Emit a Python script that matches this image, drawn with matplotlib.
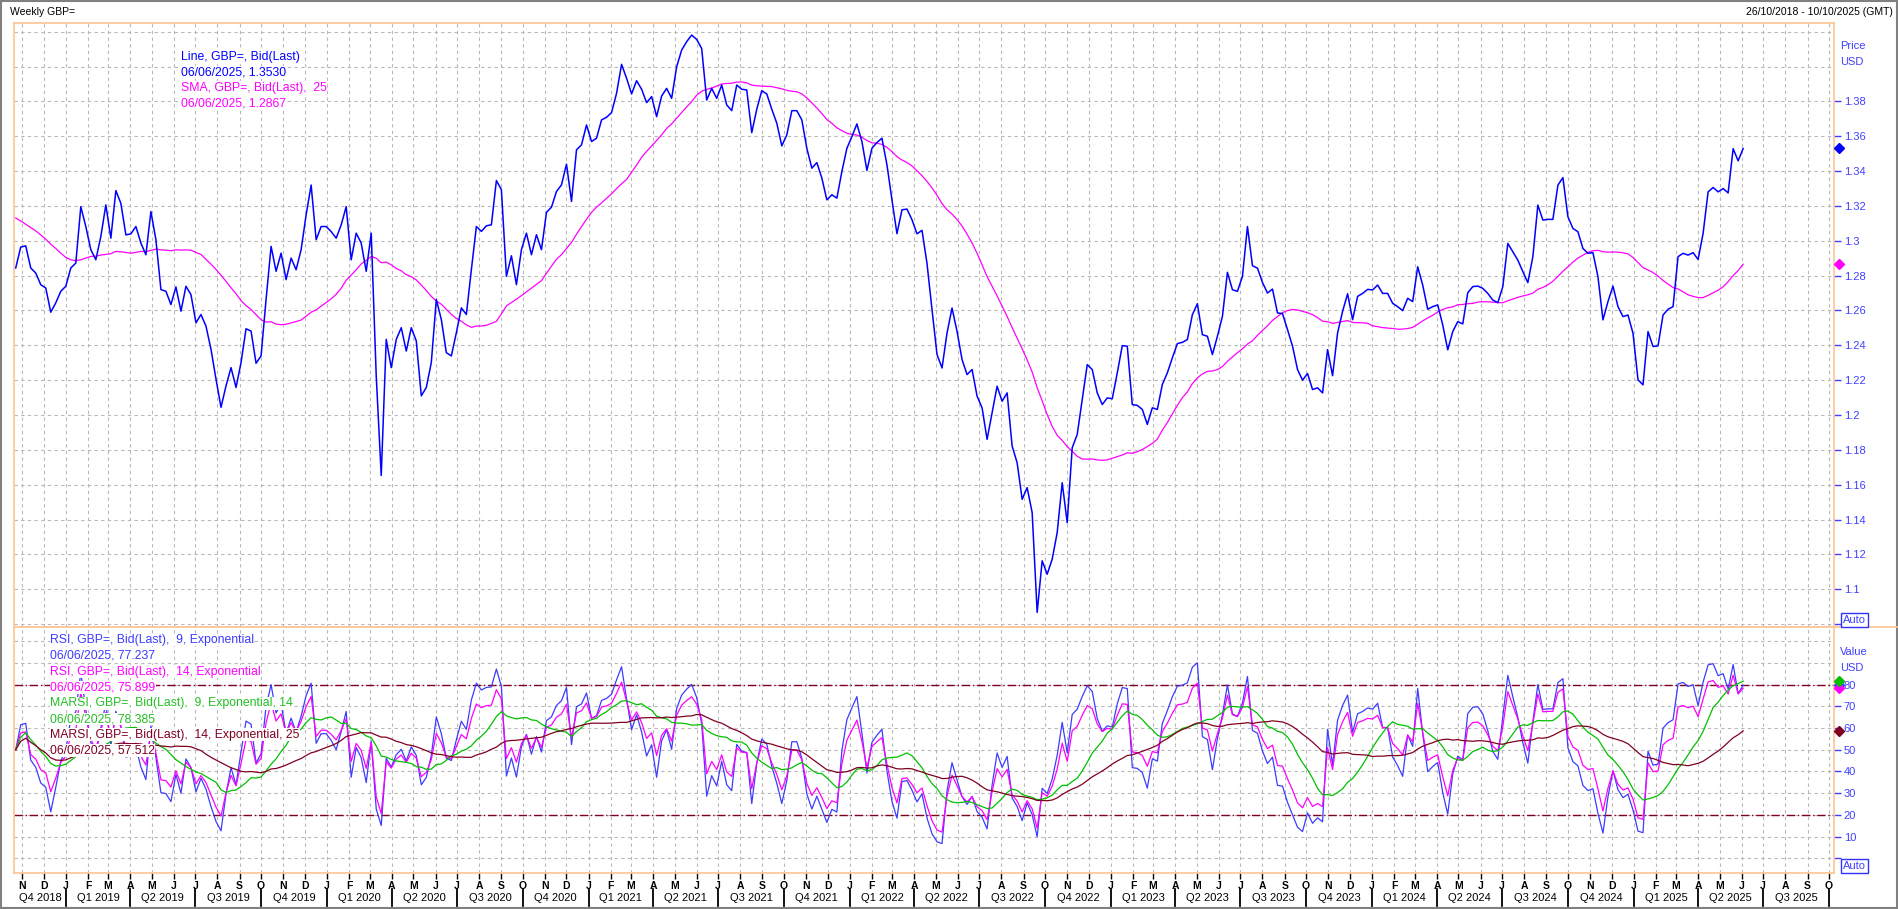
import numpy as np
import pandas as pd
import matplotlib
matplotlib.use('Agg')
import matplotlib.pyplot as plt
from matplotlib.transforms import blended_transform_factory
from matplotlib.patches import Rectangle
from matplotlib.lines import Line2D

plt.rcParams['font.family'] = ['Liberation Sans', 'DejaVu Sans']

######################### Data ############################
first_week = '2018-10-26'

# weekly GBP= bid (last), 26/10/2018 .. 06/06/2025
price = [
    1.2844, 1.2964, 1.2971, 1.2844, 1.2815, 1.2748, 1.2729, 1.2590, 1.2644, 1.2710,
    1.2739, 1.2844, 1.2872, 1.3196, 1.3082, 1.2949, 1.2891, 1.3025, 1.3206, 1.3015,
    1.3288, 1.3215, 1.3034, 1.3040, 1.3082, 1.2987, 1.2920, 1.3168, 1.3006, 1.2720,
    1.2710, 1.2634, 1.2735, 1.2596, 1.2739, 1.2691, 1.2529, 1.2577, 1.2510, 1.2377,
    1.2206, 1.2044, 1.2167, 1.2272, 1.2158, 1.2301, 1.2495, 1.2482, 1.2297, 1.2339,
    1.2663, 1.2968, 1.2825, 1.2929, 1.2777, 1.2901, 1.2834, 1.2949, 1.3149, 1.3320,
    1.3006, 1.3082, 1.3082, 1.3053, 1.3015, 1.3091, 1.3196, 1.2891, 1.3044, 1.2987,
    1.2825, 1.3044, 1.2225, 1.1653, 1.2434, 1.2272, 1.2434, 1.2501, 1.2367, 1.2501,
    1.2425, 1.2110, 1.2158, 1.2301, 1.2663, 1.2548, 1.2358, 1.2339, 1.2472, 1.2615,
    1.2577, 1.2834, 1.3082, 1.3054, 1.3086, 1.3092, 1.3346, 1.3293, 1.2796, 1.2914,
    1.2748, 1.2949, 1.3044, 1.2920, 1.3035, 1.2949, 1.3163, 1.3193, 1.3283, 1.3321,
    1.3440, 1.3226, 1.3522, 1.3551, 1.3665, 1.3570, 1.3589, 1.3694, 1.3709, 1.3736,
    1.3847, 1.4013, 1.3933, 1.3843, 1.3919, 1.3870, 1.3793, 1.3828, 1.3713, 1.3831,
    1.3875, 1.3818, 1.3999, 1.4095, 1.4143, 1.4181, 1.4156, 1.4104, 1.3808, 1.3875,
    1.3818, 1.3894, 1.3780, 1.3747, 1.3894, 1.3870, 1.3866, 1.3621, 1.3755, 1.3862,
    1.3843, 1.3755, 1.3675, 1.3545, 1.3608, 1.3747, 1.3747, 1.3694, 1.3531, 1.3417,
    1.3449, 1.3360, 1.3235, 1.3264, 1.3245, 1.3398, 1.3531, 1.3598, 1.3671, 1.3570,
    1.3404, 1.3531, 1.3564, 1.3589, 1.3436, 1.3235, 1.3041, 1.3178, 1.3182, 1.3121,
    1.3040, 1.3060, 1.2870, 1.2605, 1.2347, 1.2270, 1.2471, 1.2614, 1.2480, 1.2318,
    1.2232, 1.2261, 1.2108, 1.2041, 1.1860, 1.2013, 1.2165, 1.2079, 1.2127, 1.1822,
    1.1726, 1.1516, 1.1583, 1.1440, 1.0867, 1.1163, 1.1086, 1.1172, 1.1325, 1.1611,
    1.1382, 1.1812, 1.1888, 1.2089, 1.2289, 1.2261, 1.2127, 1.2060, 1.2098, 1.2093,
    1.2242, 1.2398, 1.2395, 1.2060, 1.2055, 1.2032, 1.1946, 1.2041, 1.2032, 1.2175,
    1.2242, 1.2328, 1.2410, 1.2417, 1.2433, 1.2576, 1.2639, 1.2461, 1.2452, 1.2347,
    1.2452, 1.2566, 1.2819, 1.2719, 1.2710, 1.2796, 1.3082, 1.2857, 1.2843, 1.2761,
    1.2700, 1.2723, 1.2586, 1.2582, 1.2490, 1.2395, 1.2261, 1.2200, 1.2238, 1.2146,
    1.2156, 1.2127, 1.2375, 1.2226, 1.2471, 1.2595, 1.2696, 1.2547, 1.2681, 1.2698,
    1.2721, 1.2718, 1.2746, 1.2698, 1.2698, 1.2641, 1.2622, 1.2599, 1.2670, 1.2651,
    1.2851, 1.2746, 1.2607, 1.2622, 1.2632, 1.2517, 1.2374, 1.2479, 1.2536, 1.2523,
    1.2702, 1.2737, 1.2740, 1.2727, 1.2698, 1.2660, 1.2645, 1.2737, 1.2985, 1.2937,
    1.2889, 1.2823, 1.2760, 1.2909, 1.3205, 1.3119, 1.3123, 1.3123, 1.3319, 1.3363,
    1.3138, 1.3071, 1.3052, 1.2956, 1.2928, 1.2932, 1.2794, 1.2546, 1.2651, 1.2740,
    1.2622, 1.2565, 1.2574, 1.2469, 1.2202, 1.2173, 1.2479, 1.2393, 1.2397, 1.2574,
    1.2607, 1.2622, 1.2909, 1.2928, 1.2918, 1.2932, 1.2893, 1.3042, 1.3281, 1.3306,
    1.3281, 1.3300, 1.3275, 1.3529, 1.3459, 1.3530,
]

# SMA(25) for the first 24 weeks (its history is before the window)
sma_head = [
    1.3131, 1.3114, 1.3095, 1.3076, 1.3057, 1.3034, 1.3009, 1.2981, 1.2956, 1.2929,
    1.2905, 1.2891, 1.2886, 1.2891, 1.2901, 1.2910, 1.2912, 1.2918, 1.2922, 1.2926,
    1.2939, 1.2937, 1.2933, 1.2929,
]

price_ticks = [1.08, 1.1, 1.12, 1.14, 1.16, 1.18, 1.2, 1.22, 1.24, 1.26, 1.28,
               1.3, 1.32, 1.34, 1.36, 1.38]
rsi_ticks = [0, 10, 20, 30, 40, 50, 60, 70, 80]
rsi_bands = [20, 80]

top_legend = [
    ("Line, GBP=, Bid(Last)", '#0000ff'),
    ("06/06/2025, 1.3530", '#0000ff'),
    ("SMA, GBP=, Bid(Last),  25", '#ff00ff'),
    ("06/06/2025, 1.2867", '#ff00ff'),
]
low_legend = [
    ("RSI, GBP=, Bid(Last),  9, Exponential", '#3c3cff'),
    ("06/06/2025, 77.237", '#3c3cff'),
    ("RSI, GBP=, Bid(Last),  14, Exponential", '#ff00ff'),
    ("06/06/2025, 75.899", '#ff00ff'),
    ("MARSI, GBP=, Bid(Last),  9, Exponential, 14", '#22c022'),
    ("06/06/2025, 78.385", '#22c022'),
    ("MARSI, GBP=, Bid(Last),  14, Exponential, 25", '#800020'),
    ("06/06/2025, 57.512", '#800020'),
]
month_letters = ['J', 'F', 'M', 'A', 'M', 'J', 'J', 'A', 'S', 'O', 'N', 'D']

######################### Indicators ############################
def rsi(s, n, seed=0.005):
    """exponential RSI, started from a neutral (50) state"""
    a = 2.0 / (n + 1)
    au, ad = seed, seed
    out = [50.0]
    for d in np.diff(s.values):
        au = (1 - a) * au + a * max(d, 0)
        ad = (1 - a) * ad + a * max(-d, 0)
        out.append(100 - 100 / (1 + au / ad))
    return pd.Series(out, index=s.index)

dates = pd.date_range(first_week, periods=len(price), freq='7D')
s = pd.Series(price, index=dates)
sma = s.rolling(25).mean()
sma.iloc[:len(sma_head)] = sma_head
rsi9 = rsi(s, 9)
rsi14 = rsi(s, 14)
marsi9 = rsi9.rolling(14, min_periods=1).mean()
marsi14 = rsi14.rolling(25, min_periods=1).mean()

######################### Figure ############################
W, H = 1898, 909
fig = plt.figure(figsize=(W / 100, H / 100), dpi=100)

def fx(x):
    return x / W

def fy(y):
    return 1 - y / H

L, R = 14, 1834
T1, B1, B2 = 22.7, 627, 873
ax1 = fig.add_axes([fx(L), fy(B1), fx(R - L), (B1 - T1) / H])
ax2 = fig.add_axes([fx(L), fy(B2), fx(R - L), (B2 - B1) / H], sharex=ax1)

orange = '#fdc590'
blue_txt = '#4040ff'
grid_c = '#b8b8b8'

x0 = dates[0] - pd.Timedelta(days=2.4)
x1 = dates[0] + pd.Timedelta(days=2542)
month_pos = pd.date_range('2018-11-01', '2025-10-01', freq='MS') + pd.Timedelta(days=3)

for ax in (ax1, ax2):
    ax.set_xlim(x0, x1)
    for sp in ax.spines.values():
        sp.set_color(orange)
        sp.set_linewidth(1.2)
    ax.yaxis.tick_right()
    ax.tick_params(axis='y', colors=blue_txt, labelcolor=blue_txt, length=5,
                   width=1, pad=2, labelsize=8)
    for m in month_pos:
        ax.axvline(m, color=grid_c, lw=0.8, ls=(0, (3, 3)), zorder=0)

# ---- top panel ----
ax1.plot(dates, price, color='#0000ff', lw=1.1, zorder=3)
ax1.plot(dates, sma, color='#ff00ff', lw=0.9, zorder=2)
ax1.set_ylim(1.0783, 1.4252)
ax1.set_yticks(price_ticks)
ax1.set_yticklabels([''] + ['%g' % t for t in price_ticks[1:]])
for t in price_ticks + [1.40, 1.42]:
    ax1.axhline(t, color=grid_c, lw=0.8, ls=(0, (3, 3)), zorder=0)
ax1.tick_params(axis='x', which='both', bottom=False, labelbottom=False)

# ---- lower panel ----
ax2.plot(dates, rsi9, color='#3c3cff', lw=0.9, zorder=3)
ax2.plot(dates, rsi14, color='#ff00ff', lw=0.9, zorder=3)
ax2.plot(dates, marsi9, color='#00c000', lw=0.9, zorder=3)
ax2.plot(dates, marsi14, color='#800020', lw=0.9, zorder=3)
ax2.set_ylim(-6.8, 106.6)
ax2.set_yticks(rsi_ticks)
ax2.set_yticklabels([''] + [str(t) for t in rsi_ticks[1:]])
for t in rsi_ticks + [90, 100]:
    ax2.axhline(t, color=grid_c, lw=0.8, ls=(0, (3, 3)), zorder=0)
for b in rsi_bands:
    ax2.axhline(b, color='#800020', lw=1.0, ls=(0, (6, 2, 1, 2)), zorder=2)

ax2.set_xticks(month_pos)
ax2.set_xticklabels([month_letters[m.month - 1] for m in month_pos],
                    fontsize=7.5, fontweight='bold')
ax2.tick_params(axis='x', length=4, width=1, color='black', pad=1.5)

# last value markers on the scale
for ax, vals, cols in (
        (ax1, [sma.iloc[-1], price[-1]], ['#ff00ff', '#0000ff']),
        (ax2, [rsi9.iloc[-1], rsi14.iloc[-1], marsi9.iloc[-1], marsi14.iloc[-1]],
         ['#3c3cff', '#ff00ff', '#00c000', '#800020'])):
    tr = blended_transform_factory(ax.transAxes, ax.transData)
    for v, c in zip(vals, cols):
        ax.plot([1.0028], [v], marker='D', ms=5, color=c, transform=tr,
                clip_on=False, zorder=5)

# legends with white backing
for k, (txt, c) in enumerate(top_legend):
    fig.text(fx(181), fy(56.7 + 15.7 * k), txt, color=c, fontsize=8.8, va='center',
             bbox=dict(facecolor='white', edgecolor='none', pad=0.3))
for k, (txt, c) in enumerate(low_legend):
    fig.text(fx(50), fy(640 + 15.8 * k), txt, color=c, fontsize=8.8, va='center',
             bbox=dict(facecolor='white', edgecolor='none', pad=0.3), zorder=10)

# axis captions
fig.text(fx(1840), fy(46), 'Price', color=blue_txt, fontsize=8, va='center')
fig.text(fx(1840), fy(62), 'USD', color=blue_txt, fontsize=8, va='center')
fig.text(fx(1840), fy(652), 'Value', color=blue_txt, fontsize=8, va='center')
fig.text(fx(1840), fy(668), 'USD', color=blue_txt, fontsize=8, va='center')
for yy in (620, 866):
    fig.text(fx(1843), fy(yy), 'Auto', color=blue_txt, fontsize=8, va='center',
             bbox=dict(facecolor='white', edgecolor='#3030ff', pad=1.2, lw=1))

# header
fig.text(fx(10), fy(12), 'Weekly GBP=', fontsize=7.5, va='center')
fig.text(fx(1893), fy(12), '26/10/2018 - 10/10/2025 (GMT)', fontsize=7.5,
         va='center', ha='right')

# separator line continues to the right edge
fig.add_artist(Line2D([fx(R), 1], [fy(B1), fy(B1)], color=orange, lw=1.2))

# quarter labels and separators
trq = blended_transform_factory(ax2.transData, fig.transFigure)
q_starts = [m for m in month_pos if m.month in (1, 4, 7, 10)]
for q in q_starts:
    ax2.add_artist(Line2D([q, q], [fy(889), fy(906)], color='black', lw=1.3,
                          transform=trq, clip_on=False))
bounds = [x0] + q_starts + [x1]
for a, b in zip(bounds[:-1], bounds[1:]):
    if (b - a).days < 40:
        continue
    mid = a + (b - a) / 2
    qn = (a.month - 1) // 3 + 1 if a != x0 else 4
    yr = a.year
    ax2.text(mid, fy(898), 'Q%d %d' % (qn, yr), transform=trq, ha='center',
             va='center', fontsize=8, clip_on=False)

# outer frame
fig.add_artist(Rectangle((0.0005, 0.001), 0.999, 0.998, transform=fig.transFigure,
                         fill=False, edgecolor='#808080', lw=1.5))

fig.savefig('out.png', dpi=100)
